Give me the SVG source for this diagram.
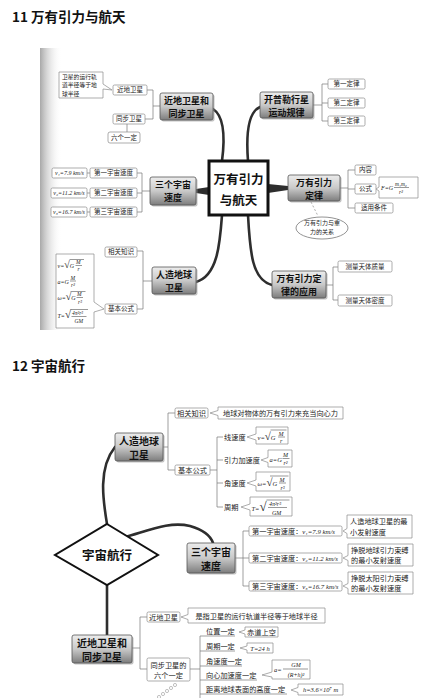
<svg xmlns="http://www.w3.org/2000/svg" width="428" height="698" viewBox="0 0 428 698">
<defs>
<linearGradient id="ng" x1="0" y1="0" x2="0" y2="1">
<stop offset="0" stop-color="#ececec"/><stop offset="0.5" stop-color="#c9c9c9"/><stop offset="1" stop-color="#7d7d7d"/>
</linearGradient>
<linearGradient id="bar" x1="0" y1="0" x2="1" y2="0">
<stop offset="0" stop-color="#a8a8a8"/><stop offset="1" stop-color="#ffffff" stop-opacity="0"/>
</linearGradient>
<style>
.ti{font-family:"Noto Sans CJK SC","Liberation Sans",sans-serif;font-weight:bold;font-size:13.5px;fill:#111}
.lb{fill:#fff;stroke:#8a8a8a;stroke-width:0.7}
.t6{font-family:"Noto Sans CJK SC",sans-serif;font-size:6.5px;fill:#222;text-anchor:middle}
.t6l{font-family:"Noto Sans CJK SC",sans-serif;font-size:5.8px;fill:#222}
.t7{font-family:"Noto Sans CJK SC",sans-serif;font-size:7.2px;fill:#222}
.tm{text-anchor:middle}
.nr{fill:url(#ng);stroke:#555;stroke-width:0.8}
.sh{fill:#999;opacity:0.6}
.nt{font-family:"Noto Sans CJK SC",sans-serif;font-weight:bold;fill:#111;text-anchor:middle}
.n1{font-size:9px}
.n2{font-size:10px}
.br{stroke:#777;stroke-width:0.7;fill:none}
.cv{stroke:#2e2e2e;stroke-width:2.6;fill:none;stroke-linecap:round}
.fm{font-family:"Liberation Serif",serif;font-style:italic;fill:#222}
.rt{font-style:normal}
.fb{stroke:#333;stroke-width:0.5}
.hw{font-family:"Noto Sans CJK SC",sans-serif;font-weight:bold;fill:#111;text-anchor:middle}
</style>
</defs>
<rect width="428" height="698" fill="#fff"/>

<text class="ti" x="12" y="22">11 万有引力与航天</text>
<text class="ti" x="12" y="371">12 宇宙航行</text>
<rect x="40" y="48" width="22" height="282" fill="url(#bar)"/>

<g id="connectors">
<path class="cv" d="M222,161 C225,138 224,116 213,109"/>
<path class="cv" d="M248,161 C246,135 248,112 260,107"/>
<polygon points="268,184 288,186 288,190 268,193" fill="#2e2e2e"/>
<polygon points="209,187 196,189 196,193 209,195" fill="#2e2e2e"/>
<path class="cv" d="M222,215 C220,242 218,276 196,282"/>
<path class="cv" d="M248,215 C250,252 252,280 272,285"/>
<path class="br" d="M147,90 H153 M145,119 H153 M153,90 V119 M153,106 H160"/>
<path class="br" d="M127,124 V132"/>
<path class="br" d="M313,105 H322 M322,84 V121 M322,84 H328 M322,103 H328 M322,121 H328"/>
<path class="br" d="M340,188 H348 M348,170 V208 M348,170 H355 M348,189 H355 M348,208 H355"/>
<path class="br" d="M150,191 H142 M142,173 V212 M142,173 H137 M142,193 H137 M142,212 H137"/>
<path class="br" d="M87,173 H90 M87,193 H90 M87,212 H90"/>
<path class="br" d="M152,281 H143 M143,251 V309 M143,251 H137 M143,309 H137"/>
<path class="br" d="M326,285 H333 M333,267 V300 M333,267 H338 M333,300 H338"/>
<path d="M311,202 L318,216" stroke="#999" stroke-width="0.8" stroke-dasharray="2,2" fill="none"/>
<path class="cv" d="M107,524 C103,500 98,468 115,447"/>
<path class="cv" d="M125,537 C150,530 170,521 190,526 C204,530 211,537 213,543"/>
<path class="cv" d="M107,585 V635"/>
<path class="br" d="M163,447 H168 M168,413 V470 M168,413 H175 M168,470 H175"/>
<path class="br" d="M210,470 H217 M217,437 V507 M217,437 H223 M217,460 H223 M217,483 H223 M217,507 H223"/>
<path class="br" d="M235,558 H243 M243,531 V586 M243,531 H249 M243,558 H249 M243,586 H249"/>
<path class="br" d="M132,648 H140 M140,617 V669 M140,617 H147 M140,669 H147"/>
<path class="br" d="M190,669 H200 M200,636 V698 M200,636 H235 M200,651 H235 M200,666 H242 M200,680 H257 M200,694 H287"/>
<g fill="none" stroke="#999" stroke-width="0.6">
<circle cx="175" cy="685" r="1.6"/><circle cx="171" cy="688" r="1.6"/><circle cx="167" cy="691" r="1.6"/><circle cx="163" cy="694" r="1.6"/><circle cx="159" cy="697" r="1.6"/>
</g>
</g>

<!-- ===== Section 1 ===== -->
<g id="center1">
<rect x="209" y="161" width="59" height="54" fill="#fff" stroke="#111" stroke-width="3"/>
<text class="hw" x="238.5" y="184" font-size="12.5">万有引力</text>
<text class="hw" x="238.5" y="205" font-size="12.5">与航天</text>
</g>

<g id="n1-jindi">
<rect class="sh" x="161.5" y="94.5" width="53" height="27" rx="2"/>
<rect class="nr" x="160" y="93" width="53" height="27" rx="2"/>
<text class="nt n1" x="186.5" y="104">近地卫星和</text>
<text class="nt n1" x="186.5" y="117">同步卫星</text>
</g>
<g id="l-jindi1"><rect class="lb" x="113" y="85" width="34" height="10" rx="1.5"/><text class="t6" x="130" y="92.3">近地卫星</text></g>
<g id="l-tongbu1"><rect class="lb" x="113" y="114" width="32" height="10" rx="1.5"/><text class="t6" x="129" y="121.3">同步卫星</text></g>
<g id="l-liuge1"><rect class="lb" x="108" y="132" width="32" height="11" rx="2"/><text class="t6" x="124" y="139.8">六个一定</text></g>
<g id="c-jindi1">
<path class="lb" d="M59,72 H103 V84 L112,90 L103,89 V98 H59 Z"/>
<text class="t6l" x="62" y="79">卫星的运行轨</text>
<text class="t6l" x="62" y="87.4">道半径等于地</text>
<text class="t6l" x="62" y="95.8">球半径</text>
</g>

<g id="n2-kepler">
<rect class="sh" x="261.5" y="93.5" width="53" height="26" rx="2"/>
<rect class="nr" x="260" y="92" width="53" height="26" rx="2"/>
<text class="nt n1" x="286.5" y="102.5">开普勒行星</text>
<text class="nt n1" x="286.5" y="115.5">运动规律</text>
</g>
<g id="l-d1"><rect class="lb" x="328" y="79" width="37" height="10" rx="1.5"/><text class="t6" x="346.5" y="86.3">第一定律</text></g>
<g id="l-d2"><rect class="lb" x="328" y="98" width="37" height="10" rx="1.5"/><text class="t6" x="346.5" y="105.3">第二定律</text></g>
<g id="l-d3"><rect class="lb" x="328" y="116" width="37" height="10" rx="1.5"/><text class="t6" x="346.5" y="123.3">第三定律</text></g>

<g id="n3-law">
<rect class="sh" x="289.5" y="176.5" width="52" height="26" rx="2"/>
<rect class="nr" x="288" y="175" width="52" height="26" rx="2"/>
<text class="nt n1" x="314" y="185.5">万有引力</text>
<text class="nt n1" x="314" y="198.5">定律</text>
</g>
<g id="l-neirong"><rect class="lb" x="355" y="165" width="21" height="10" rx="1.5"/><text class="t6" x="365.5" y="172.3">内容</text></g>
<g id="l-gongshi"><rect class="lb" x="355" y="184" width="21" height="10" rx="1.5"/><text class="t6" x="365.5" y="191.3">公式</text></g>
<g id="l-shiyong"><rect class="lb" x="355" y="203" width="38" height="10" rx="1.5"/><text class="t6" x="374" y="210.3">适用条件</text></g>
<g id="c-fgm">
<path class="lb" d="M379,177 H418 V198 H379 V191 L376,189 L379,187 Z"/>
<text class="fm" x="381" y="190" font-size="6">F=G</text>
<text class="fm" x="395" y="186" font-size="5.5">m₁m₂</text>
<line class="fb" x1="394" y1="187.5" x2="409" y2="187.5"/>
<text class="fm" x="399" y="194" font-size="5.5">r²</text>
</g>
<g id="e-zhongli">
<ellipse cx="322" cy="228" rx="26" ry="11" fill="#fff" stroke="#777" stroke-width="0.8"/>
<text class="t6" x="322" y="225" style="font-size:6px">万有引力与重</text>
<text class="t6" x="322" y="234" style="font-size:6px">力的关系</text>
</g>

<g id="n4-speed1">
<rect class="sh" x="151.5" y="178.5" width="46" height="28" rx="2"/>
<rect class="nr" x="150" y="177" width="46" height="28" rx="2"/>
<text class="nt n1" x="173" y="188">三个宇宙</text>
<text class="nt n1" x="173" y="201">速度</text>
</g>
<g id="l-s1"><rect class="lb" x="90" y="168" width="47" height="10" rx="1.5"/><text class="t6" x="113.5" y="175.3">第一宇宙速度</text></g>
<g id="l-s2"><rect class="lb" x="90" y="188" width="47" height="10" rx="1.5"/><text class="t6" x="113.5" y="195.3">第二宇宙速度</text></g>
<g id="l-s3"><rect class="lb" x="90" y="207" width="47" height="10" rx="1.5"/><text class="t6" x="113.5" y="214.3">第三宇宙速度</text></g>
<g id="l-v1"><rect class="lb" x="52" y="168" width="35" height="10" rx="1.5"/><text class="fm tm" x="69.5" y="175.2" font-size="6">v₁=7.9 km/s</text></g>
<g id="l-v2"><rect class="lb" x="51" y="188" width="36" height="10" rx="1.5"/><text class="fm tm" x="69" y="195.2" font-size="6">v₂=11.2 km/s</text></g>
<g id="l-v3"><rect class="lb" x="51" y="207" width="36" height="10" rx="1.5"/><text class="fm tm" x="69" y="214.2" font-size="6">v₃=16.7 km/s</text></g>

<g id="n5-sat1">
<rect class="sh" x="153.5" y="268.5" width="44" height="27" rx="2"/>
<rect class="nr" x="152" y="267" width="44" height="27" rx="2"/>
<text class="nt n1" x="174" y="278">人造地球</text>
<text class="nt n1" x="174" y="291">卫星</text>
</g>
<g id="l-xiangguan1"><rect class="lb" x="105" y="247" width="32" height="10" rx="1.5"/><text class="t6" x="121" y="254.3">相关知识</text></g>
<g id="l-jiben1"><rect class="lb" x="105" y="304" width="32" height="10" rx="1.5"/><text class="t6" x="121" y="311.3">基本公式</text></g>
<g id="c-formulas1">
<path class="lb" d="M56,254 H94 V302 L104,309 L94,312 V328 H56 Z"/>
<text class="fm" x="57.5" y="268" font-size="6">v=<tspan class="rt" font-size="10">√</tspan>G</text>
<line class="fb" x1="69.5" y1="259.5" x2="84" y2="259.5"/>
<text class="fm" x="76" y="264" font-size="5.5">M</text>
<line class="fb" x1="75.5" y1="265.5" x2="82" y2="265.5"/>
<text class="fm" x="77.5" y="271" font-size="5.5">r</text>

<text class="fm" x="57.5" y="283.5" font-size="6">a=G</text>
<text class="fm" x="70.5" y="279.5" font-size="5.5">M</text>
<line class="fb" x1="70" y1="281" x2="76" y2="281"/>
<text class="fm" x="71" y="287" font-size="5.5">r²</text>

<text class="fm" x="57.5" y="300" font-size="6">ω=<tspan class="rt" font-size="10">√</tspan>G</text>
<line class="fb" x1="70.5" y1="291.5" x2="85.5" y2="291.5"/>
<text class="fm" x="77" y="296" font-size="5.5">M</text>
<line class="fb" x1="76.5" y1="297.5" x2="83" y2="297.5"/>
<text class="fm" x="78" y="303.5" font-size="5.5">r³</text>

<text class="fm" x="57.5" y="318" font-size="6">T=<tspan class="rt" font-size="11">√</tspan></text>
<line class="fb" x1="70.5" y1="309.5" x2="88" y2="309.5"/>
<text class="fm" x="72" y="315" font-size="5.5">4π²r³</text>
<line class="fb" x1="71.5" y1="316.5" x2="86.5" y2="316.5"/>
<text class="fm" x="74.5" y="323" font-size="5.5">GM</text>
</g>

<g id="n6-app">
<rect class="sh" x="273.5" y="272.5" width="54" height="27" rx="2"/>
<rect class="nr" x="272" y="271" width="54" height="27" rx="2"/>
<text class="nt n1" x="299" y="282">万有引力定</text>
<text class="nt n1" x="299" y="295">律的应用</text>
</g>
<g id="l-zhiliang"><rect class="lb" x="338" y="261" width="54" height="11" rx="1.5"/><text class="t6" x="365" y="268.8">测量天体质量</text></g>
<g id="l-midu"><rect class="lb" x="338" y="295" width="54" height="11" rx="1.5"/><text class="t6" x="365" y="302.8">测量天体密度</text></g>

<!-- ===== Section 2 ===== -->
<g id="diamond">
<polygon points="107,524 158,555 107,585 55,555" fill="#fff" stroke="#111" stroke-width="2"/>
<text class="hw" x="107" y="560" font-size="12.5">宇宙航行</text>
</g>

<g id="m1-sat">
<rect class="sh" x="116.5" y="434.5" width="48" height="28" rx="2"/>
<rect class="nr" x="115" y="433" width="48" height="28" rx="2"/>
<text class="nt n2" x="139" y="444.5">人造地球</text>
<text class="nt n2" x="139" y="458.5">卫星</text>
</g>
<g id="l-xiangguan2"><rect class="lb" x="175" y="408" width="33" height="10" rx="1.5"/><text class="t7 tm" x="191.5" y="415.6">相关知识</text></g>
<g id="c-wanyou">
<path class="lb" d="M218,407 H343 V419 H218 V415.5 L210,413 L218,410.5 Z"/>
<text class="t7 tm" x="280.5" y="415.8">地球对物体的万有引力来充当向心力</text>
</g>
<g id="l-jiben2"><rect class="lb" x="175" y="465" width="35" height="10" rx="1.5"/><text class="t7 tm" x="192.5" y="472.6">基本公式</text></g>
<g id="i-xian"><text class="t7" x="224" y="439.6">线速度</text>
<path class="lb" d="M256,427 H288 V444 H256 V440 L247,437 L256,434 Z"/>
<text class="fm" x="257.5" y="440" font-size="6.5">v=<tspan class="rt" font-size="11">√</tspan>G</text>
<line class="fb" x1="270.5" y1="430" x2="286.5" y2="430"/>
<text class="fm" x="278.5" y="435.5" font-size="6">M</text>
<line class="fb" x1="278" y1="437" x2="285" y2="437"/>
<text class="fm" x="280" y="443" font-size="6">r</text>
</g>
<g id="i-yinli"><text class="t7" x="224" y="462.6">引力加速度</text>
<path class="lb" d="M268,450 H292 V467 H268 V462.5 L261,460 L268,457.5 Z"/>
<text class="fm" x="269.5" y="461.5" font-size="6.5">a=G</text>
<text class="fm" x="283" y="457" font-size="6">M</text>
<line class="fb" x1="282.5" y1="458.5" x2="289.5" y2="458.5"/>
<text class="fm" x="283.5" y="465" font-size="6">r²</text>
</g>
<g id="i-jiao"><text class="t7" x="224" y="485.6">角速度</text>
<path class="lb" d="M256,472 H290 V491 H256 V486 L247,483 L256,480 Z"/>
<text class="fm" x="257.5" y="486" font-size="6.5">ω=<tspan class="rt" font-size="11">√</tspan>G</text>
<line class="fb" x1="270" y1="476" x2="288.5" y2="476"/>
<text class="fm" x="279.5" y="481.5" font-size="6">M</text>
<line class="fb" x1="279" y1="483" x2="286" y2="483"/>
<text class="fm" x="280.5" y="489.5" font-size="6">r³</text>
</g>
<g id="i-zhouqi"><text class="t7" x="224" y="509.6">周期</text>
<path class="lb" d="M250,497 H292 V516 H250 V510 L241,507 L250,504 Z"/>
<text class="fm" x="251.5" y="511" font-size="6.5">T=<tspan class="rt" font-size="13">√</tspan></text>
<line class="fb" x1="266.5" y1="500" x2="289.5" y2="500"/>
<text class="fm" x="269" y="506" font-size="6">4π²r³</text>
<line class="fb" x1="268" y1="507.5" x2="287" y2="507.5"/>
<text class="fm" x="272" y="514.5" font-size="6">GM</text>
</g>

<g id="m2-speed">
<rect class="sh" x="188.5" y="544.5" width="48" height="30" rx="2"/>
<rect class="nr" x="187" y="543" width="48" height="30" rx="2"/>
<text class="nt n2" x="211" y="555.5">三个宇宙</text>
<text class="nt n2" x="211" y="569.5">速度</text>
</g>
<g id="l-sp1"><rect class="lb" x="249" y="526" width="93" height="10" rx="1.5"/><text class="t7" x="252" y="533.6">第一宇宙速度：<tspan class="fm" font-size="6.8">v₁=7.9 km/s</tspan></text></g>
<g id="c-sp1"><path class="lb" d="M347,515 H412 V538 H347 V533.5 L343,531 L347,528.5 Z"/>
<text class="t7" x="350" y="524">人造地球卫星的最</text><text class="t7" x="350" y="534.5">小发射速度</text></g>
<g id="l-sp2"><rect class="lb" x="249" y="553" width="93" height="10" rx="1.5"/><text class="t7" x="252" y="560.6">第二宇宙速度：<tspan class="fm" font-size="6.8">v₂=11.2 km/s</tspan></text></g>
<g id="c-sp2"><path class="lb" d="M348,544 H413 V566 H348 V560.5 L343,558 L348,555.5 Z"/>
<text class="t7" x="351" y="552.5">挣脱地球引力束缚</text><text class="t7" x="351" y="563">的最小发射速度</text></g>
<g id="l-sp3"><rect class="lb" x="249" y="581" width="93" height="10" rx="1.5"/><text class="t7" x="252" y="588.6">第三宇宙速度：<tspan class="fm" font-size="6.8">v₃=16.7 km/s</tspan></text></g>
<g id="c-sp3"><path class="lb" d="M348,572 H413 V594 H348 V588.5 L343,586 L348,583.5 Z"/>
<text class="t7" x="351" y="580.5">挣脱太阳引力束缚</text><text class="t7" x="351" y="591">的最小发射速度</text></g>

<g id="m3-jindi">
<rect class="sh" x="73.5" y="636.5" width="60" height="28" rx="2"/>
<rect class="nr" x="72" y="635" width="60" height="28" rx="2"/>
<text class="nt n2" x="102" y="646.5">近地卫星和</text>
<text class="nt n2" x="102" y="660.5">同步卫星</text>
</g>
<g id="l-jindi2"><rect class="lb" x="147" y="612" width="33" height="10" rx="1.5"/><text class="t7 tm" x="163.5" y="619.6">近地卫星</text></g>
<g id="c-jindi2"><path class="lb" d="M188,608 H325 V623 H188 V619.5 L181,617 L188,614.5 Z"/>
<text class="t7 tm" x="256.5" y="618.5">是指卫星的运行轨道半径等于地球半径</text></g>
<g id="l-tongbu2"><rect class="lb" x="147" y="658" width="43" height="23" rx="1.5"/>
<text class="t7 tm" x="168.5" y="667.5">同步卫星的</text><text class="t7 tm" x="168.5" y="678">六个一定</text></g>
<g id="i-weizhi"><text class="t7" x="206" y="634">位置一定</text>
<path class="lb" d="M245,627 H278 V637 H245 V634 L239,632 L245,630 Z"/>
<text class="t7 tm" x="261.5" y="634.6">赤道上空</text></g>
<g id="i-zhouqi2"><text class="t7" x="206" y="649">周期一定</text>
<path class="lb" d="M247,643 H273 V653 H247 V650 L240,648 L247,646 Z"/>
<text class="fm tm" x="260" y="650.5" font-size="6.5">T=24 h</text></g>
<g id="i-jiaosu"><text class="t7" x="206" y="664">角速度一定</text></g>
<g id="i-xiangxin"><text class="t7" x="206" y="678">向心加速度一定</text>
<path class="lb" d="M272,660 H310 V679 H272 V677 L262,675 L272,672 Z"/>
<text class="fm" x="274" y="672" font-size="6.5">a=</text>
<text class="fm tm" x="296" y="667" font-size="6">GM</text>
<line class="fb" x1="283" y1="669" x2="308" y2="669"/>
<text class="fm tm" x="296" y="676.5" font-size="6">(R+h)²</text></g>
<g id="i-gaodu"><text class="t7" x="206" y="692">距离地球表面的高度一定</text>
<path class="lb" d="M298,684 H343 V695 H298 V692.5 L291,690 L298,687.5 Z"/>
<text class="fm tm" x="320.5" y="692" font-size="6.5">h=3.6×10⁷ m</text></g>
</svg>
